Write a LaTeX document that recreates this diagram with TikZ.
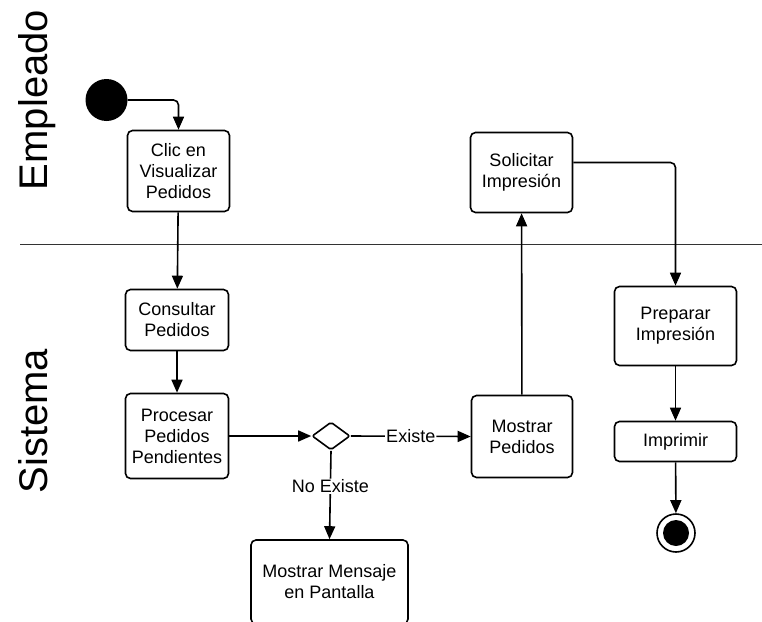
\documentclass[tikz,border=0pt]{standalone}
\usepackage{fontspec}
\setmainfont{Liberation Sans}
\usetikzlibrary{arrows.meta,shapes.geometric}

\begin{document}
\begin{tikzpicture}[x=1pt,y=-1pt,
  accion/.style={draw,line width=1.6pt,rounded corners=5pt,align=center,inner sep=2pt,
    font=\fontsize{18}{21}\selectfont},
  flecha/.style={line width=1.6pt,-{Triangle[length=13pt,width=11pt]},rounded corners=5pt},
  carril/.style={rotate=90,anchor=base,inner sep=0pt,font=\fontsize{40}{40}\selectfont},
  etiq/.style={fill=white,inner sep=1pt,font=\fontsize{18}{20}\selectfont}]
\useasboundingbox (0,0) rectangle (762,621);

% carriles
\draw[line width=1pt,black!80] (20,244) -- (762,244);
\node[carril] (empleado) at (47,100) {Empleado};
\node[carril] (sistema) at (47,421) {Sistema};

% nodos
\node[circle,fill=black,minimum size=42pt,inner sep=0pt] (inicio) at (106.5,100) {};
\node[accion,minimum width=102pt,minimum height=81pt] (clic) at (178.5,171) {Clic en\\Visualizar\\Pedidos};
\node[accion,minimum width=103pt,minimum height=61pt] (consultar) at (177,320) {Consultar\\Pedidos};
\node[accion,minimum width=103pt,minimum height=85pt] (procesar) at (177,436) {Procesar\\Pedidos\\Pendientes};
\node[diamond,draw,line width=1.6pt,rounded corners=2pt,minimum width=38pt,minimum height=28pt,
  inner sep=0pt] (decision) at (331,436) {};
\node[accion,minimum width=101pt,minimum height=82pt] (mostrarped) at (522,436.5) {Mostrar\\Pedidos};
\node[accion,minimum width=102pt,minimum height=80pt] (solicitar) at (521.5,172.5) {Solicitar\\Impresi\'on};
\node[accion,minimum width=122pt,minimum height=79pt] (preparar) at (675.5,326) {Preparar\\Impresi\'on};
\node[accion,minimum width=122pt,minimum height=40pt] (imprimir) at (675.5,441.5) {Imprimir};
\node[accion,minimum width=157pt,minimum height=84pt] (mensaje) at (329.5,582) {Mostrar Mensaje\\en Pantalla};
\node[circle,draw,line width=1.6pt,minimum size=38pt,inner sep=0pt] (fin) at (676,533) {};
\node[circle,fill=black,minimum size=26pt,inner sep=0pt] (finc) at (fin) {};

% flujo
\draw[flecha] (inicio.east) -| (clic.north);
\draw[flecha] (clic) -- (consultar);
\draw[flecha] (consultar) -- (procesar);
\draw[flecha] (procesar.east) -- (decision.west);
\draw[flecha] (decision.east) -- node[etiq] {Existe} (mostrarped.west);
\draw[flecha] (decision.south) -- node[etiq,pos=0.4] {No Existe} (mensaje.north);
\draw[flecha] (mostrarped) -- (solicitar);
\draw[flecha] ([yshift=10pt]solicitar.east) -| (preparar.north);
\draw[flecha] (preparar) -- (imprimir);
\draw[flecha] (imprimir) -- (fin);

\end{tikzpicture}
\end{document}
